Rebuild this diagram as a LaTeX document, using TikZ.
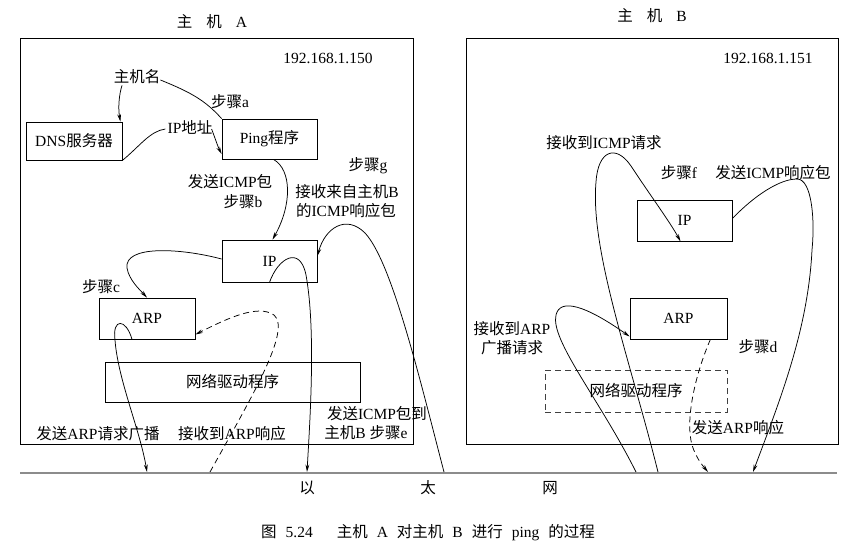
\documentclass[tikz,border=0pt]{standalone}
\usepackage{fontspec}
\setmainfont{Liberation Serif}
\newfontfamily\cjkfont{Noto Sans CJK SC}
\newcommand\zhs[1]{{\cjkfont #1}}
\usetikzlibrary{arrows.meta}
\begin{document}
\begin{tikzpicture}[x=1pt,y=-1pt,
  every node/.style={font=\fontsize{15.5}{18}\selectfont, inner sep=0pt},
  box/.style={draw, line width=0.8pt},
  dbox/.style={draw, line width=0.8pt, dash pattern=on 6pt off 4pt, draw=black!75},
  ln/.style={line width=0.75pt},
  arr/.style={line width=0.75pt, -{Stealth[length=7.5pt,width=3.8pt]}},
  darr/.style={line width=0.75pt, dash pattern=on 6pt off 4pt, -{Stealth[length=7.5pt,width=3.8pt]}},
  eth/.style={line width=1.8pt, draw=black!45}]
\useasboundingbox (0,0) rectangle (865,545);
% host frames
\node[box, minimum width=393pt, minimum height=406pt] (hostA) at (216.5,241) {};
\node[box, minimum width=372pt, minimum height=406pt] (hostB) at (652,241) {};
\node (titleA) at (212,22) {\zhs{主}\hspace{14pt}\zhs{机}\hspace{14pt}A};
\node (titleB) at (652,16) {\zhs{主}\hspace{14pt}\zhs{机}\hspace{14pt}B};
\node (addrA) at (328,58) {192.168.1.150};
\node (addrB) at (768,58) {192.168.1.151};
% ethernet
\coordinate (ethl) at (20,473);
\coordinate (ethr) at (837,473);
\draw[eth] (ethl) -- (ethr);
\coordinate (e1) at (147,472);
\coordinate (e2) at (210,472);
\coordinate (e3) at (307,472);
\coordinate (e4) at (444,472);
\coordinate (e5) at (636,472);
\coordinate (e6) at (658,472);
\coordinate (e7) at (708,472);
\coordinate (e8) at (753,472);
\node (yi) at (307,488) {\zhs{以}};
\node (tai) at (428,488) {\zhs{太}};
\node (wang) at (550,488) {\zhs{网}};
\node (cap) at (428,533) {\zhs{图}\hspace{9pt}5.24\hspace{24pt}\zhs{主机}\hspace{9pt}A\hspace{9pt}\zhs{对主机}\hspace{9pt}B\hspace{9pt}\zhs{进行}\hspace{9pt}ping\hspace{9pt}\zhs{的过程}};

% ---------- host A ----------
\node (hname) at (137,77) {\zhs{主机名}};
\node (stepa) at (230,102) {\zhs{步骤}a};
\node[box, minimum width=96pt, minimum height=38pt] (dns) at (74,141) {DNS\zhs{服务器}};
\node[box, minimum width=95pt, minimum height=40pt] (ping) at (269.5,139) {Ping\zhs{程序}};
\node (ipaddr) at (190,127) {IP\zhs{地址}};
\node (sendicmp) at (230,182) {\zhs{发送}ICMP\zhs{包}};
\node (stepb) at (243,202) {\zhs{步骤}b};
\node (stepg) at (368,166) {\zhs{步骤}g};
\node (recvB1) at (347,192) {\zhs{接收来自主机}B};
\node (recvB2) at (346,211) {\zhs{的}ICMP\zhs{响应包}};
\node[box, minimum width=95pt, minimum height=42pt] (ipA) at (269.5,261) {IP};
\node (stepc) at (101,287) {\zhs{步骤}c};
\node[box, minimum width=96pt, minimum height=41pt] (arpA) at (147,318.5) {ARP};
\node[box, minimum width=255pt, minimum height=40pt] (drvA) at (232.5,382) {\zhs{网络驱动程序}};
\node (sendarp) at (98,434) {\zhs{发送}ARP\zhs{请求广播}};
\node (recvarp) at (232,434) {\zhs{接收到}ARP\zhs{响应}};
\node (sendB1) at (377,414) {\zhs{发送}ICMP\zhs{包到}};
\node (sendB2) at (366,433) {\zhs{主机}B\hspace{4pt}\zhs{步骤}e};

% connectors host A
\draw[arr] ([xshift=-15pt,yshift=-1pt]hname.south) .. controls (119,95) and (118,108) .. ([xshift=-2pt]dns.north east);
\draw[ln] ([yshift=-3pt]hname.east) .. controls (190,92) and (205,100) .. (ping.north west);
\draw[ln] (dns.south east) .. controls (140,146) and (150,131) .. ([xshift=-2pt,yshift=-2pt]ipaddr.west);
\draw[arr] ([xshift=-1pt,yshift=-2pt]ipaddr.east) .. controls (215,138) and (218,147) .. ([yshift=-15pt]ping.west);
\draw[arr] ([xshift=4pt]ping.south) .. controls (292,170) and (292,205) .. ([xshift=3pt]ipA.north);
\draw[arr] ([yshift=2pt]ipA.west) .. controls (180,248) and (124,245) .. (127,268) .. controls (129,280) and (140,290) .. (arpA.north);
\draw[arr] ([xshift=-15pt]arpA.south) .. controls (126,318) and (112,318) .. (115,340) .. controls (118,380) and (140,430) .. (e1);
\draw[darr] (e2) .. controls (250,400) and (292,330) .. (274,315) .. controls (258,304) and (228,318) .. ([yshift=-16pt]arpA.east);
\draw[arr] (ipA.south) .. controls (278,258) and (300,245) .. (306,275) .. controls (316,330) and (310,420) .. (e3);
\draw[arr] (e4) .. controls (420,380) and (392,262) .. (365,233) .. controls (346,214) and (325,228) .. ([yshift=5pt]ipA.east);

% ---------- host B ----------
\node (recvicmp) at (604,143) {\zhs{接收到}ICMP\zhs{请求}};
\node (stepf) at (679,173) {\zhs{步骤}f};
\node (sendrep) at (773,173) {\zhs{发送}ICMP\zhs{响应包}};
\node[box, minimum width=95pt, minimum height=41pt] (ipB) at (684.5,220.5) {IP};
\node[box, minimum width=97pt, minimum height=41pt] (arpB) at (678.5,318.5) {ARP};
\node (recvbc1) at (512,329) {\zhs{接收到}ARP};
\node (recvbc2) at (512,348) {\zhs{广播请求}};
\node (stepd) at (758,347) {\zhs{步骤}d};
\node[dbox, minimum width=182pt, minimum height=42pt] (drvB) at (636,391) {\zhs{网络驱动程序}};
\node (sendarprep) at (738,428) {\zhs{发送}ARP\zhs{响应}};

% connectors host B
\draw[arr] (e6) .. controls (630,360) and (590,250) .. (596,182) .. controls (598,150) and (616,144) .. (631,166) .. controls (650,195) and (670,222) .. ([xshift=-4pt]ipB.south);
\draw[arr] ([yshift=2pt]ipB.east) .. controls (755,195) and (780,179) .. (797,179) .. controls (812,179) and (815,220) .. (812,250) .. controls (808,330) and (780,400) .. (e8);
\draw[arr] (e5) .. controls (600,400) and (550,340) .. (556,315) .. controls (560,298) and (585,305) .. ([yshift=-18pt]arpB.west);
\draw[darr] ([xshift=-17pt]arpB.south east) .. controls (695,375) and (685,420) .. (692,445) .. controls (696,458) and (703,466) .. (e7);
\end{tikzpicture}
\end{document}
